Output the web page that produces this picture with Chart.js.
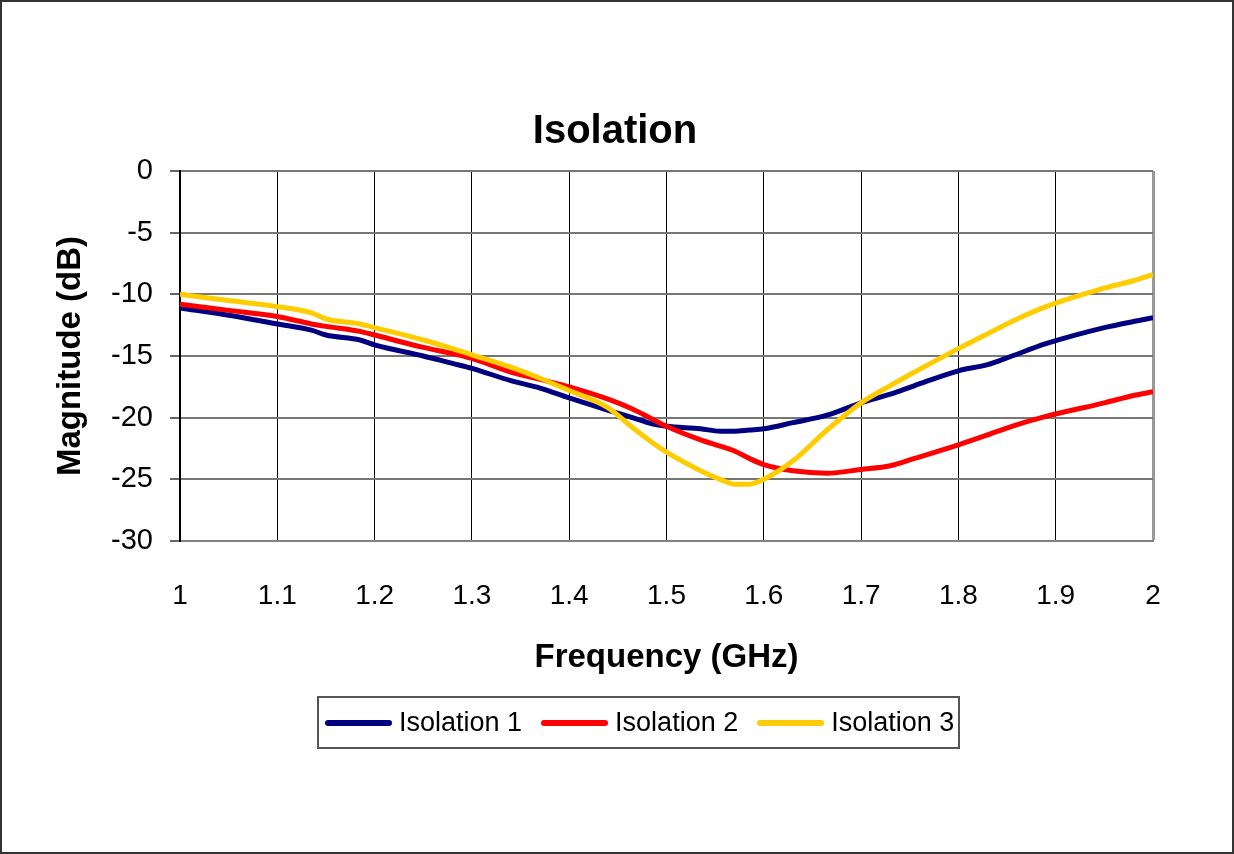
<!DOCTYPE html>
<html>
<head>
<meta charset="utf-8">
<title>Isolation</title>
<script src="https://cdn.jsdelivr.net/npm/chart.js@4.4.0/dist/chart.umd.min.js"></script>
<style>
html,body{margin:0;padding:0;background:#fff;}
#frame{position:relative;width:1230px;height:850px;border:2px solid #333;background:#fff;}
#title{position:absolute;left:413px;top:103px;width:400px;text-align:center;line-height:48px;
  font-family:'Liberation Sans',Arial,sans-serif;font-size:40px;font-weight:bold;color:#000;}
#legend{position:absolute;left:315px;top:694px;width:633px;height:49px;border:2px solid #555;
  display:flex;align-items:center;padding-left:6px;box-sizing:content-box;white-space:nowrap;
  font-family:'Liberation Sans',Arial,sans-serif;font-size:27px;color:#000;}
#legend .item{display:flex;align-items:center;margin-right:19px;white-space:nowrap;}
#legend .swatch{display:inline-block;width:67px;height:6px;border-radius:3px;margin-right:7px;}
</style>
</head>
<body>
<div id="frame">
  <canvas id="chart" width="1230" height="850"></canvas>
  <div id="title">Isolation</div>
  <div id="legend"></div>
</div>
<script>
// frequency points (GHz) and isolation (dB)
const freq = [1.00, 1.05, 1.10, 1.135, 1.15, 1.185, 1.20, 1.25, 1.28, 1.30, 1.34, 1.37, 1.40, 1.44, 1.465, 1.485,
  1.50, 1.535, 1.555, 1.57, 1.585, 1.60, 1.63, 1.665, 1.70, 1.73, 1.755, 1.80, 1.83, 1.855, 1.89, 1.95, 1.98, 2.00];
const iso1 = [-11.1, -11.7, -12.4, -12.9, -13.3, -13.7, -14.1, -15.0, -15.6, -16.0, -17.0, -17.6, -18.4, -19.4, -20.0, -20.5,
  -20.7, -20.9, -21.1, -21.1, -21.0, -20.9, -20.4, -19.8, -18.8, -18.1, -17.4, -16.2, -15.7, -15.0, -14.0, -12.7, -12.2, -11.9];
const iso2 = [-10.8, -11.3, -11.8, -12.4, -12.6, -13.0, -13.3, -14.3, -14.8, -15.2, -16.3, -16.9, -17.5, -18.5, -19.3, -20.1,
  -20.7, -21.8, -22.3, -22.7, -23.3, -23.8, -24.3, -24.5, -24.2, -23.9, -23.3, -22.2, -21.4, -20.7, -19.9, -18.8, -18.2, -17.9];
const iso3 = [-10.0, -10.5, -11.0, -11.5, -12.0, -12.4, -12.7, -13.7, -14.4, -14.9, -15.9, -16.8, -17.8, -19.2, -20.8, -22.0,
  -22.8, -24.3, -25.0, -25.4, -25.4, -25.0, -23.5, -21.0, -18.8, -17.4, -16.3, -14.4, -13.2, -12.2, -11.0, -9.5, -8.9, -8.4];

const seriesNames = ['Isolation 1', 'Isolation 2', 'Isolation 3'];
const seriesColors = ['#000080', '#ff0000', '#ffcc00'];
const xTicks = [1, 1.1, 1.2, 1.3, 1.4, 1.5, 1.6, 1.7, 1.8, 1.9, 2];
const yTicks = [0, -5, -10, -15, -20, -25, -30];

Chart.defaults.font.family = "'Liberation Sans', Arial, sans-serif";
Chart.defaults.color = '#000';

const allSeries = [iso1, iso2, iso3];
const datasets = allSeries.map((vals, i) => ({
  label: seriesNames[i],
  data: freq.map((f, k) => ({x: f, y: vals[k]})),
  borderColor: seriesColors[i],
  backgroundColor: seriesColors[i],
  borderWidth: 5,
  pointRadius: 0,
  cubicInterpolationMode: 'monotone',
  fill: false,
  order: 3 - i  // yellow on top, like the original
}));

const ctx = document.getElementById('chart').getContext('2d');
const chart = new Chart(ctx, {
  type: 'line',
  data: {datasets},
  options: {
    responsive: false,
    animation: false,
    layout: {padding: {left: 0, right: 79, top: 169, bottom: 161}},
    plugins: {
      legend: {display: false},
      tooltip: {enabled: false}
    },
    scales: {
      x: {
        type: 'linear', min: 1, max: 2,
        afterBuildTicks: s => { s.ticks = xTicks.map(v => ({value: v})); },
        afterFit: s => { s.height = 150; },
        ticks: {padding: 38, font: {size: 28}, color: '#000', maxRotation: 0, autoSkip: false,
          callback: v => String(Math.round(v * 10) / 10)},
        grid: {
          drawTicks: false,
          color: c => (c.tick && c.tick.value === 2) ? '#999' : '#000',
          lineWidth: c => (c.tick && c.tick.value === 2) ? 3 : 1
        },
        border: {color: '#808080', width: 2},
        title: {display: true, text: 'Frequency (GHz)', color: '#000',
          font: {size: 33, weight: 'bold'}, padding: {top: 0, bottom: 13}}
      },
      y: {
        min: -30, max: 0,
        afterBuildTicks: s => { s.ticks = yTicks.map(v => ({value: v})); },
        afterFit: s => { s.width = 178; },
        ticks: {padding: 17, font: {size: 29}, color: '#000', callback: v => String(v)},
        grid: {color: '#777', lineWidth: 2, drawTicks: true, tickLength: 10, tickColor: '#666', tickWidth: 2},
        border: {color: '#000', width: 2},
        title: {display: true, text: 'Magnitude (dB)', color: '#000',
          font: {size: 33, weight: 'bold'}, padding: {top: 49, bottom: 0}}
      }
    }
  }
});

// legend box below the plot
const legend = document.getElementById('legend');
seriesNames.forEach((name, i) => {
  const item = document.createElement('div');
  item.className = 'item';
  item.innerHTML = `<span class="swatch" style="background:${seriesColors[i]}"></span><span>${name}</span>`;
  legend.appendChild(item);
});
</script>
</body>
</html>
